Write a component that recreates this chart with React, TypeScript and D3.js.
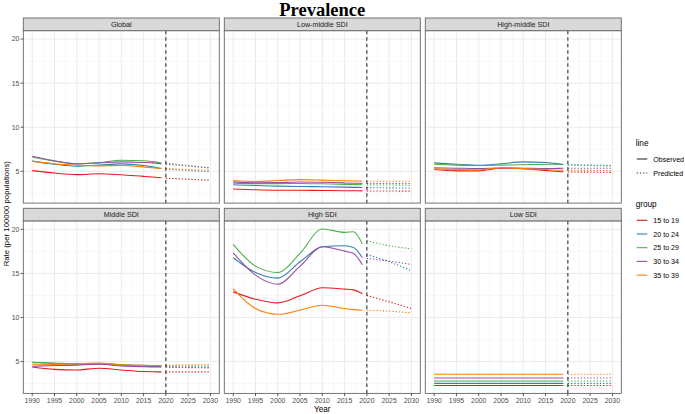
import React from 'react';
import * as d3 from 'd3';

// ---------- data ----------
const panels = ['Global', 'Low-middle SDI', 'High-middle SDI', 'Middle SDI', 'High SDI', 'Low SDI'];
const groups = ['15 to 19', '20 to 24', '25 to 29', '30 to 34', '35 to 39'];
const groupColors = ['#E41A1C', '#377EB8', '#4DAF4A', '#984EA3', '#FF7F00'];
const obsYears = [1990, 1995, 2000, 2005, 2010, 2015, 2017, 2019];
const predYears = [2020, 2025, 2030];
const xTicks = [1990, 1995, 2000, 2005, 2010, 2015, 2020, 2025, 2030];
const yTicks = [5, 10, 15, 20];
const cutYear = 2020;

// observed rows follow groups order
const globalObs = [
  [5.08, 4.8, 4.62, 4.72, 4.6, 4.42, 4.35, 4.27],
  [6.15, 5.8, 5.57, 5.72, 5.84, 5.65, 5.5, 5.31],
  [6.62, 6.15, 5.85, 6.0, 6.25, 6.2, 6.1, 5.95],
  [6.7, 6.2, 5.84, 5.95, 6.07, 6.0, 5.95, 5.84],
  [6.15, 5.85, 5.69, 5.62, 5.66, 5.5, 5.4, 5.31],
];
const globalPred = [
  [4.22, 4.1, 3.98],
  [5.27, 5.1, 4.94],
  [5.92, 5.65, 5.38],
  [5.8, 5.6, 5.38],
  [5.3, 5.2, 5.12],
];
const lowMiddleObs = [
  [3.0, 2.9, 2.85, 2.85, 2.82, 2.8, 2.79, 2.78],
  [3.47, 3.38, 3.32, 3.28, 3.25, 3.2, 3.18, 3.16],
  [3.65, 3.6, 3.6, 3.62, 3.58, 3.52, 3.5, 3.47],
  [3.8, 3.7, 3.72, 3.78, 3.75, 3.68, 3.65, 3.62],
  [3.95, 3.85, 3.95, 4.06, 4.0, 3.92, 3.9, 3.87],
];
const lowMiddlePred = [
  [2.77, 2.76, 2.75],
  [3.15, 3.12, 3.1],
  [3.46, 3.44, 3.42],
  [3.62, 3.62, 3.62],
  [3.87, 3.87, 3.87],
];
const highMiddleObs = [
  [5.2, 5.05, 5.05, 5.35, 5.3, 5.1, 5.0, 4.94],
  [5.96, 5.8, 5.69, 5.85, 6.07, 6.0, 5.9, 5.77],
  [5.8, 5.7, 5.66, 5.7, 5.75, 5.8, 5.8, 5.8],
  [5.39, 5.35, 5.32, 5.38, 5.35, 5.3, 5.32, 5.35],
  [5.27, 5.2, 5.16, 5.4, 5.3, 5.2, 5.15, 5.12],
];
const highMiddlePred = [
  [4.92, 4.9, 4.88],
  [5.75, 5.7, 5.65],
  [5.72, 5.66, 5.6],
  [5.35, 5.35, 5.35],
  [5.12, 5.1, 5.08],
];
const middleObs = [
  [4.39, 4.12, 4.05, 4.24, 4.05, 3.88, 3.85, 3.83],
  [4.92, 4.8, 4.7, 4.72, 4.6, 4.5, 4.46, 4.43],
  [4.9, 4.82, 4.75, 4.75, 4.65, 4.58, 4.56, 4.55],
  [4.47, 4.55, 4.6, 4.7, 4.5, 4.42, 4.4, 4.39],
  [4.7, 4.68, 4.75, 4.84, 4.65, 4.58, 4.56, 4.55],
];
const middlePred = [
  [3.83, 3.83, 3.83],
  [4.41, 4.38, 4.35],
  [4.54, 4.52, 4.5],
  [4.36, 4.32, 4.28],
  [4.58, 4.62, 4.66],
];
const highObs = [
  [12.91, 12.08, 11.66, 12.46, 13.37, 13.22, 13.14, 12.69],
  [16.78, 15.11, 14.47, 16.32, 18.03, 18.15, 17.95, 16.78],
  [18.29, 15.83, 15.11, 17.27, 20.05, 19.66, 19.73, 18.33],
  [17.34, 14.81, 13.78, 15.83, 18.03, 17.53, 17.27, 15.98],
  [13.25, 11.02, 10.37, 10.83, 11.4, 11.02, 10.9, 10.83],
];
const highPred = [
  [12.5, 11.78, 11.02],
  [17.15, 16.32, 15.3],
  [18.71, 18.14, 17.8],
  [16.7, 16.4, 16.02],
  [10.83, 10.72, 10.53],
];
const lowObs = [
  [2.28, 2.28, 2.28, 2.28, 2.28, 2.28, 2.28, 2.28],
  [2.53, 2.53, 2.53, 2.53, 2.53, 2.53, 2.53, 2.53],
  [2.8, 2.8, 2.8, 2.8, 2.8, 2.8, 2.8, 2.8],
  [3.14, 3.14, 3.14, 3.14, 3.14, 3.14, 3.14, 3.14],
  [3.56, 3.56, 3.56, 3.56, 3.56, 3.56, 3.56, 3.56],
];
const lowPred = [
  [2.28, 2.28, 2.28],
  [2.53, 2.53, 2.53],
  [2.8, 2.8, 2.8],
  [3.14, 3.14, 3.14],
  [3.56, 3.56, 3.56],
];

const panelObs = [globalObs, lowMiddleObs, highMiddleObs, middleObs, highObs, lowObs];
const panelPred = [globalPred, lowMiddlePred, highMiddlePred, middlePred, highPred, lowPred];

// ---------- layout ----------
const W = 685;
const H = 414;
const colX = [23.3, 224.3, 425.3];
const panelW = 196;
const stripTop = [18, 208.3];
const stripH = 12.8;
const panelH = 172.3;
const SANS = 'Liberation Sans, Arial, Helvetica, sans-serif';

const allVals = [...panelObs.flat(2), ...panelPred.flat(2)];
const vMin = d3.min(allVals) as number;
const vMax = d3.max(allVals) as number;
const pad = (vMax - vMin) * 0.05;

const x = d3.scaleLinear().domain([1988, 2032]).range([0, panelW]);
const y = d3.scaleLinear().domain([vMin - pad, vMax + pad]).range([panelH, 0]);

const xMinor = xTicks.slice(0, -1).map((t) => t + 2.5);
const yMinor = [2.5, 7.5, 12.5, 17.5];

const lineGen = d3
  .line<[number, number]>()
  .x((d) => x(d[0]))
  .y((d) => y(d[1]))
  .curve(d3.curveMonotoneX);

function Panel({ idx }: { idx: number }) {
  const col = idx % 3;
  const row = Math.floor(idx / 3);
  const px = colX[col];
  const sy = stripTop[row];
  const py = sy + stripH;
  const obs = panelObs[idx];
  const pred = panelPred[idx];
  return (
    <g>
      {/* strip */}
      <rect x={px} y={sy} width={panelW} height={stripH} fill="#D9D9D9" stroke="#666" strokeWidth={0.9} />
      <text x={px + panelW / 2} y={sy + stripH / 2 + 2.5} textAnchor="middle" fontSize={7.2} fill="#1A1A1A" fontFamily={SANS}>
        {panels[idx]}
      </text>
      <g transform={`translate(${px},${py})`}>
        <rect x={0} y={0} width={panelW} height={panelH} fill="#fff" />
        {xMinor.map((t) => (
          <line key={'xm' + t} x1={x(t)} x2={x(t)} y1={0} y2={panelH} stroke="#F2F2F2" strokeWidth={0.6} />
        ))}
        {yMinor.map((t) => (
          <line key={'ym' + t} x1={0} x2={panelW} y1={y(t)} y2={y(t)} stroke="#F2F2F2" strokeWidth={0.6} />
        ))}
        {xTicks.map((t) => (
          <line key={'xg' + t} x1={x(t)} x2={x(t)} y1={0} y2={panelH} stroke="#EBEBEB" strokeWidth={1} />
        ))}
        {yTicks.map((t) => (
          <line key={'yg' + t} x1={0} x2={panelW} y1={y(t)} y2={y(t)} stroke="#EBEBEB" strokeWidth={1} />
        ))}
        {obs.map((vals, g) => (
          <path
            key={'o' + g}
            d={lineGen(obsYears.map((yr, i) => [yr, vals[i]] as [number, number])) || ''}
            fill="none"
            stroke={groupColors[g]}
            strokeWidth={1.1}
          />
        ))}
        {pred.map((vals, g) => (
          <path
            key={'p' + g}
            d={lineGen(predYears.map((yr, i) => [yr, vals[i]] as [number, number])) || ''}
            fill="none"
            stroke={groupColors[g]}
            strokeWidth={1.1}
            strokeDasharray="1.3 1.9"
          />
        ))}
        <line x1={x(cutYear)} x2={x(cutYear)} y1={0} y2={panelH} stroke="#333" strokeWidth={1.1} strokeDasharray="3.5 3" />
        <rect x={0} y={0} width={panelW} height={panelH} fill="none" stroke="#666" strokeWidth={0.9} />
        {row === 1 &&
          xTicks.map((t) => (
            <g key={'xt' + t}>
              <line x1={x(t)} x2={x(t)} y1={panelH} y2={panelH + 2.7} stroke="#333" strokeWidth={0.8} />
              <text x={x(t)} y={panelH + 10} textAnchor="middle" fontSize={6.9} fill="#4D4D4D" fontFamily={SANS}>
                {t}
              </text>
            </g>
          ))}
        {col === 0 &&
          yTicks.map((t) => (
            <g key={'yt' + t}>
              <line x1={-2.7} x2={0} y1={y(t)} y2={y(t)} stroke="#333" strokeWidth={0.8} />
              <text x={-4} y={y(t) + 2.4} textAnchor="end" fontSize={6.9} fill="#4D4D4D" fontFamily={SANS}>
                {t}
              </text>
            </g>
          ))}
      </g>
    </g>
  );
}

export default function App() {
  const lgX = 636.7;
  const lineItems = [
    { label: 'Observed', dash: undefined as string | undefined, y: 159 },
    { label: 'Predicted', dash: '1.3 1.9', y: 173 },
  ];
  const groupY0 = 220.3;
  const groupStep = 13.7;
  return (
    <svg
      width={W}
      height={H}
      viewBox={`0 0 ${W} ${H}`}
      style={{ position: 'absolute', left: 0, top: 0, background: '#fff' }}
    >
      <rect x={0} y={0} width={W} height={H} fill="#fff" />
      <text
        x={(colX[0] + colX[2] + panelW) / 2}
        y={15.5}
        textAnchor="middle"
        fontSize={18.5}
        fontWeight="bold"
        fontFamily="Liberation Serif, Times New Roman, serif"
        fill="#000"
      >
        Prevalence
      </text>
      {panels.map((_, i) => (
        <Panel key={i} idx={i} />
      ))}
      <text
        transform={`translate(9,${(stripTop[0] + stripTop[1] + stripH + panelH) / 2 + 8}) rotate(-90)`}
        textAnchor="middle"
        fontSize={7.8}
        fill="#000"
        fontFamily={SANS}
      >
        Rate (per 100000 populations)
      </text>
      <text x={(colX[0] + colX[2] + panelW) / 2} y={412} textAnchor="middle" fontSize={8.2} fill="#000" fontFamily={SANS}>
        Year
      </text>
      {/* legend: line */}
      <text x={635.7} y={146} fontSize={8.2} fill="#000" fontFamily={SANS}>
        line
      </text>
      {lineItems.map((it) => (
        <g key={it.label}>
          <line x1={lgX} x2={lgX + 10.6} y1={it.y} y2={it.y} stroke="#333" strokeWidth={1.1} strokeDasharray={it.dash} />
          <text x={653.3} y={it.y + 2.5} fontSize={7.1} fill="#000" fontFamily={SANS}>
            {it.label}
          </text>
        </g>
      ))}
      {/* legend: group */}
      <text x={635.7} y={207} fontSize={8.2} fill="#000" fontFamily={SANS}>
        group
      </text>
      {groups.map((g, i) => (
        <g key={g}>
          <line
            x1={lgX}
            x2={lgX + 10.6}
            y1={groupY0 + i * groupStep}
            y2={groupY0 + i * groupStep}
            stroke={groupColors[i]}
            strokeWidth={1.1}
          />
          <text x={653.3} y={groupY0 + i * groupStep + 2.5} fontSize={7.1} fill="#000" fontFamily={SANS}>
            {g}
          </text>
        </g>
      ))}
    </svg>
  );
}
